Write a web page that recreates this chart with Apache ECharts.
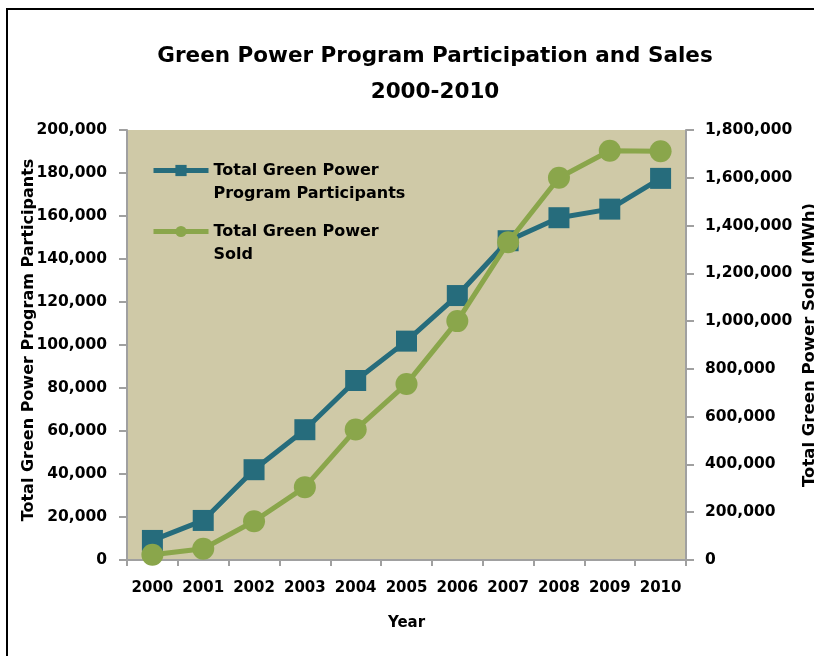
<!DOCTYPE html>
<html>
<head>
<meta charset="utf-8">
<script src="https://cdn.jsdelivr.net/npm/echarts@6/dist/echarts.min.js"></script>
<style>
html,body{margin:0;padding:0;background:#fff;}
#main{width:814px;height:656px;}
</style>
</head>
<body>
<div id="main"></div>
<script>
const years = ['2000','2001','2002','2003','2004','2005','2006','2007','2008','2009','2010'];
const participants = [9100, 18400, 42000, 60600, 83500, 101800, 123000, 148500, 159200, 163200, 177500];
const powerSold = [22000, 47000, 162000, 305000, 546000, 737000, 1000000, 1330000, 1600000, 1713000, 1711000];
const leftTicks = [0, 200000, 20000];
const rightTicks = [0, 1800000, 200000];

const FONT = 'DejaVu Sans';
const TEAL = '#266C7C';
const GREEN = '#8AA64B';
const fmt = v => v.toLocaleString('en-US');

const chart = echarts.init(document.getElementById('main'));
const legendBase = {
  orient: 'vertical',
  left: 151,
  padding: 0,
  itemWidth: 55,
  itemHeight: 14,
  itemGap: 0,
  lineStyle: {width: 5},
  textStyle: {fontFamily: FONT, fontWeight: 'bold', fontSize: 16, color: '#000', lineHeight: 23}
};
chart.setOption({
  animation: false,
  title: {
    text: 'Green Power Program Participation and Sales\n2000-2010',
    left: 430, top: 33, textAlign: 'center',
    textStyle: {fontFamily: FONT, fontWeight: 'bold', fontSize: 21.5, lineHeight: 36, color: '#000'}
  },
  graphic: [{
    type: 'rect', shape: {x: 7, y: 9, width: 900, height: 800},
    style: {fill: 'none', stroke: '#000', lineWidth: 2}, silent: true
  }],
  legend: [
    Object.assign({}, legendBase, {top: 136, data: ['Total Green Power Program Participants'],
      formatter: () => ' \nTotal Green Power\nProgram Participants'}),
    Object.assign({}, legendBase, {top: 197, data: ['Total Green Power Sold'],
      formatter: () => ' \nTotal Green Power\nSold'})
  ],
  grid: {left: 127, right: 128, top: 130, bottom: 96, containLabel: false, outerBoundsMode: 'none',
    show: true, backgroundColor: '#CFC9A7', borderWidth: 0},
  xAxis: {
    type: 'category', data: years, boundaryGap: true,
    name: 'Year', nameLocation: 'middle', nameGap: 56, nameMoveOverlap: false,
    nameTextStyle: {fontFamily: FONT, fontWeight: 'bold', fontSize: 15, color: '#000'},
    axisLine: {lineStyle: {color: '#A0A0A0', width: 2}},
    axisTick: {show: true, length: 6, interval: 0, lineStyle: {color: '#A0A0A0', width: 2}},
    axisLabel: {fontFamily: FONT, fontWeight: 'bold', fontSize: 15, color: '#000', margin: 21, interval: 0, hideOverlap: false}
  },
  yAxis: [{
    type: 'value', min: leftTicks[0], max: leftTicks[1], interval: leftTicks[2],
    name: 'Total Green Power Program Participants', nameLocation: 'middle', nameRotate: 90, nameGap: 90,
    nameMoveOverlap: false,
    nameTextStyle: {fontFamily: FONT, fontWeight: 'bold', fontSize: 16, color: '#000', padding: [0, 0, 0, 10]},
    axisLine: {show: true, lineStyle: {color: '#A0A0A0', width: 2}},
    axisTick: {show: true, length: 8, lineStyle: {color: '#A0A0A0', width: 2}},
    splitLine: {show: false},
    axisLabel: {fontFamily: FONT, fontWeight: 'bold', fontSize: 15.5, color: '#000', margin: 20, formatter: fmt}
  }, {
    type: 'value', position: 'right', min: rightTicks[0], max: rightTicks[1], interval: rightTicks[2],
    name: 'Total Green Power Sold (MWh)', nameLocation: 'middle', nameRotate: 90, nameGap: 115,
    nameMoveOverlap: false,
    nameTextStyle: {fontFamily: FONT, fontWeight: 'bold', fontSize: 16.5, color: '#000'},
    axisLine: {show: true, lineStyle: {color: '#A0A0A0', width: 2}},
    axisTick: {show: true, length: 8, lineStyle: {color: '#A0A0A0', width: 2}},
    splitLine: {show: false},
    axisLabel: {fontFamily: FONT, fontWeight: 'bold', fontSize: 15.5, color: '#000', margin: 19, formatter: fmt}
  }],
  series: [{
    name: 'Total Green Power Program Participants', type: 'line', yAxisIndex: 0, data: participants,
    symbol: 'rect', symbolSize: 21, lineStyle: {color: TEAL, width: 5}, itemStyle: {color: TEAL}, z: 2
  }, {
    name: 'Total Green Power Sold', type: 'line', yAxisIndex: 1, data: powerSold,
    symbol: 'circle', symbolSize: 22, lineStyle: {color: GREEN, width: 5}, itemStyle: {color: GREEN}, z: 3
  }]
});
</script>
</body>
</html>
